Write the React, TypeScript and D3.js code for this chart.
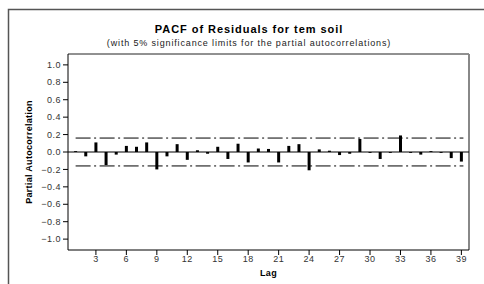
import React from 'react';
import * as d3 from 'd3';

// PACF values for lags 1..39
const LAGS = d3.range(1, 40);
const PACF = [
  0.01, -0.05, 0.11, -0.15, -0.03, 0.07, 0.06, 0.11, -0.2, -0.05,
  0.09, -0.09, 0.02, -0.02, 0.06, -0.08, 0.095, -0.12, 0.04, 0.035,
  -0.12, 0.07, 0.09, -0.21, 0.03, 0.015, -0.035, -0.02, 0.15, -0.01,
  -0.08, -0.01, 0.19, -0.01, -0.03, 0.01, -0.01, -0.07, -0.11,
];
const LIMIT = 0.16;
const X_TICKS = [3, 6, 9, 12, 15, 18, 21, 24, 27, 30, 33, 36, 39];
const Y_TICKS = [-1.0, -0.8, -0.6, -0.4, -0.2, 0.0, 0.2, 0.4, 0.6, 0.8, 1.0];

const TITLE = 'PACF of Residuals for tem soil';
const SUBTITLE = '(with 5% significance limits for the partial autocorrelations)';

const W = 484;
const H = 284;
const FONT = '"Liberation Sans", Arial, sans-serif';

function PacfChart() {
  const left = 68;
  const right = 469;
  const top = 54;
  const bottom = 250;

  const x = d3.scaleLinear().domain([0.25, 39.75]).range([left, right]);
  const y = d3.scaleLinear().domain([-1.125, 1.125]).range([bottom, top]);
  const fmt = d3.format('.1f');

  return (
    <svg width={W} height={H} style={{ position: 'absolute', left: 0, top: 0 }} fontFamily={FONT}>
      <rect x={0} y={0} width={W} height={H} fill="#fff" />
      {/* outer frame, cut off at right and bottom */}
      <rect x={8.5} y={9.5} width={W + 20} height={H + 20} fill="none" stroke="#555" strokeWidth={1.5} />

      <text x={249} y={33} textAnchor="middle" fontSize={11} fontWeight="bold" letterSpacing={0.95}>{TITLE}</text>
      <text x={249} y={46} textAnchor="middle" fontSize={9} fill="#222" letterSpacing={0.85}>{SUBTITLE}</text>

      {/* plot frame */}
      <line x1={left} y1={top} x2={right} y2={top} stroke="#222" strokeWidth={1} />
      <line x1={right} y1={top} x2={right} y2={bottom} stroke="#888" strokeWidth={2} />
      <line x1={left} y1={top} x2={left} y2={bottom} stroke="#000" strokeWidth={1} />
      <line x1={left} y1={bottom} x2={right} y2={bottom} stroke="#000" strokeWidth={1} />

      {/* y axis */}
      {Y_TICKS.map(t => (
        <g key={t} transform={`translate(0, ${y(t)})`}>
          <line x1={left - 5} x2={left} stroke="#000" />
          <text x={left - 7} dy="0.35em" textAnchor="end" fontSize={9} fill="#333" letterSpacing={0.5}>{fmt(t)}</text>
        </g>
      ))}
      <text transform={`translate(32, ${(top + bottom) / 2}) rotate(-90)`} textAnchor="middle" fontSize={9} fontWeight="bold" letterSpacing={0.3}>
        Partial Autocorrelation
      </text>

      {/* x axis */}
      {X_TICKS.map(t => (
        <g key={t} transform={`translate(${x(t)}, 0)`}>
          <line y1={bottom} y2={bottom + 5} stroke="#000" />
          <text y={bottom + 12} textAnchor="middle" fontSize={9} fill="#333" letterSpacing={0.5}>{t}</text>
        </g>
      ))}
      <text x={(left + right) / 2} y={276} textAnchor="middle" fontSize={9} fontWeight="bold" letterSpacing={0.4}>Lag</text>

      {/* significance limits */}
      {[LIMIT, -LIMIT].map(v => (
        <line key={v} x1={x(1)} x2={x(39.2)} y1={y(v)} y2={y(v)} stroke="#000" strokeWidth={1} strokeDasharray="15,3.5,2,3.5" />
      ))}

      {/* zero line */}
      <line x1={left} x2={right} y1={y(0)} y2={y(0)} stroke="#000" strokeWidth={1.2} />

      {/* bars */}
      {LAGS.map((lag, i) => (
        <line key={lag} x1={x(lag)} x2={x(lag)} y1={y(0)} y2={y(PACF[i])} stroke="#000" strokeWidth={3} />
      ))}
    </svg>
  );
}

export default function App() {
  return <PacfChart />;
}
